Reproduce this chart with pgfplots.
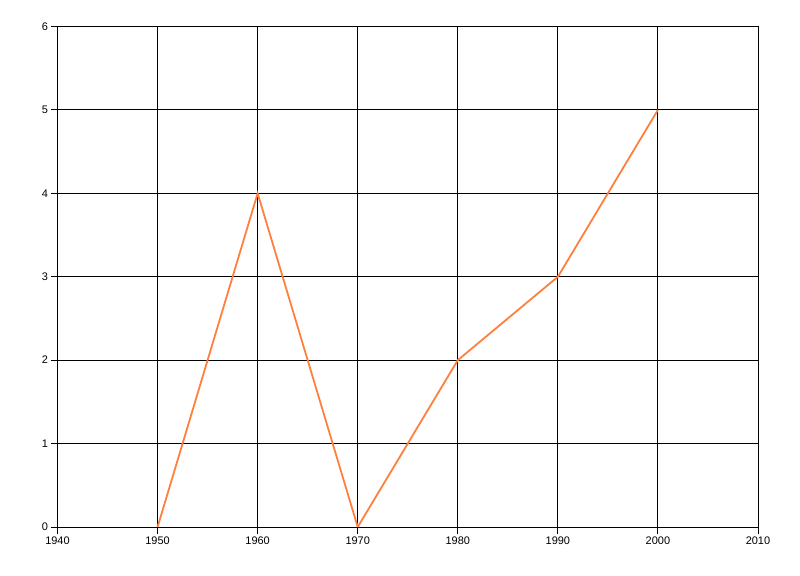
\documentclass[border=0pt]{standalone}
\usepackage{fontspec}
\setmainfont{Liberation Sans}
\usepackage{pgfplots}
\pgfplotsset{compat=1.18}
\definecolor{lineorange}{RGB}{255,127,63}

\begin{document}
\begin{tikzpicture}[x=1bp,y=1bp]
  \begin{axis}[
    name=main,
    scale only axis,
    width=700.5bp,
    height=500.5bp,
    xmin=1940, xmax=2010,
    ymin=0, ymax=6,
    xtick={1940,1950,...,2010},
    ytick={0,1,...,6},
    grid=major,
    grid style={black, line width=0.9bp},
    axis line style={black, line width=0.9bp},
    tick style={black, line width=0.9bp},
    tick align=outside,
    major tick length=7bp,
    xtick pos=left, ytick pos=left,
    x tick label style={/pgf/number format/1000 sep={}, yshift=1bp},
    y tick label style={xshift=1bp},
    /pgf/number format/assume math mode=true,
    tick label style={font=\fontsize{11}{12}\selectfont},
  ]
    \addplot[lineorange, line width=1.8bp] coordinates {
      (1950,0) (1960,4) (1970,0) (1980,2) (1990,3) (2000,5)
    };
  \end{axis}
  \path[use as bounding box] (main.south west) ++(-57.5bp,-49bp) rectangle ++(800bp,576bp);
\end{tikzpicture}
\end{document}
